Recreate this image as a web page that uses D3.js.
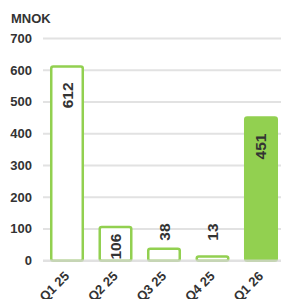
<!DOCTYPE html>
<html>
<head>
<meta charset="utf-8">
<script src="https://cdn.jsdelivr.net/npm/d3@7"></script>
<style>
  body { margin: 0; background: #fff; }
  svg text { font-family: "Liberation Sans", Arial, sans-serif; font-weight: bold; fill: #333; }
</style>
</head>
<body>
<svg width="281" height="299"></svg>
<script>
// chart data
var quarters = ["Q1 25", "Q2 25", "Q3 25", "Q4 25", "Q1 26"];
var values = [612, 106, 38, 13, 451];
var filled = [false, false, false, false, true];
var yTicks = [0, 100, 200, 300, 400, 500, 600, 700];
var unitLabel = "MNOK";

var green = "#92d050";
var svg = d3.select("svg");

var x = d3.scaleBand().domain(quarters).range([43, 285]).paddingInner(0.35).paddingOuter(0.17);
var y = d3.scaleLinear().domain([0, 700]).range([260.7, 38.5]);

// grid lines
svg.selectAll("line.grid").data(yTicks.filter(function(t){ return t > 0; })).enter().append("line")
    .attr("class", "grid")
    .attr("x1", 43).attr("x2", 281)
    .attr("y1", function(d){ return y(d); }).attr("y2", function(d){ return y(d); })
    .attr("stroke", "#e2e2e2").attr("stroke-width", 2);

// y tick labels
svg.selectAll("text.ytick").data(yTicks).enter().append("text")
    .attr("class", "ytick")
    .attr("x", 32).attr("y", function(d){ return y(d) + 4.5; })
    .attr("text-anchor", "end")
    .attr("font-size", "13px")
    .text(function(d){ return d; });

svg.append("text").attr("x", 11).attr("y", 23).attr("font-size", "13px").text(unitLabel);

var rows = quarters.map(function(q, i){ return {q: q, v: values[i], f: filled[i]}; });

// bars
svg.selectAll("rect.bar").data(rows).enter().append("rect")
    .attr("class", "bar")
    .attr("x", function(d){ return x(d.q); })
    .attr("width", x.bandwidth())
    .attr("y", function(d){ return y(d.v); })
    .attr("height", function(d){ return y(0) - y(d.v); })
    .attr("rx", 2)
    .attr("fill", function(d){ return d.f ? green : "#fff"; })
    .attr("stroke", green).attr("stroke-width", 2.5);

// zero line on top
svg.append("line")
    .attr("x1", 43).attr("x2", 281)
    .attr("y1", y(0)).attr("y2", y(0))
    .attr("stroke", "rgba(215,215,215,0.75)").attr("stroke-width", 2.5);

// value labels (rotated)
var y0 = y(0);
svg.selectAll("text.val").data(rows).enter().append("text")
    .attr("class", "val")
    .attr("font-size", "15.5px")
    .attr("transform", function(d){
        var cx = x(d.q) + x.bandwidth() / 2 + 5.5;
        var top = y(d.v), py;
        if (y0 - top < 20) {
            py = Math.min(top - 7, y0 - 20);
        } else {
            py = Math.min(top + 16, y0 - 27);
        }
        return "translate(" + cx + "," + py + ") rotate(-90)";
    })
    .attr("text-anchor", function(d){ return (y0 - y(d.v) < 20) ? "start" : "end"; })
    .text(function(d){ return d.v; });

// x labels
svg.selectAll("text.xl").data(quarters).enter().append("text")
    .attr("class", "xl")
    .attr("font-size", "13px")
    .attr("text-anchor", "end")
    .attr("transform", function(d){
        return "translate(" + (x(d) + x.bandwidth() / 2 + 3) + ",277) rotate(-45)";
    })
    .text(function(d){ return d; });
</script>
</body>
</html>
